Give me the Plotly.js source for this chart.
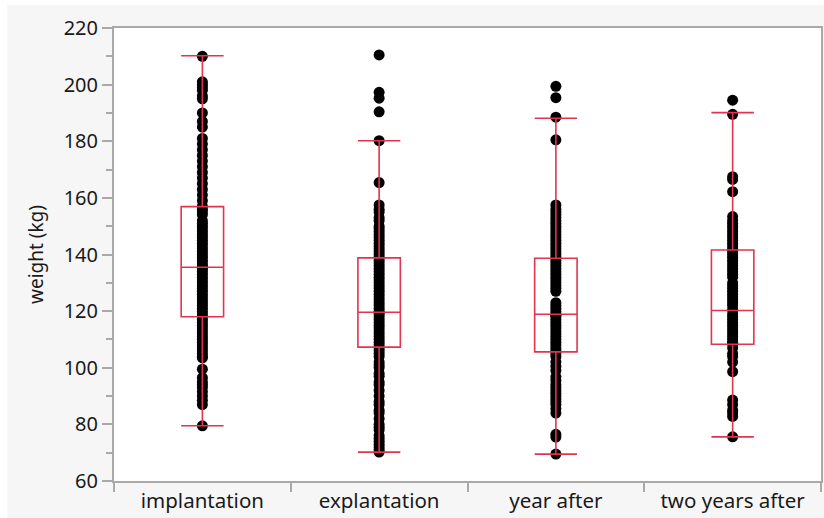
<!DOCTYPE html>
<html>
<head>
<meta charset="utf-8">
<script src="https://cdn.plot.ly/plotly-3.0.1.min.js"></script>
<style>html,body{margin:0;padding:0;background:#fff}#chart{width:824px;height:518px}</style>
</head>
<body>
<div id="chart"></div>
<script>
const categories = ["implantation", "explantation", "year after", "two years after"];

const implantation = [210, 201, 200, 199, 198, 196, 195, 190, 187, 185, 181, 179, 177, 175, 173, 171, 169, 167, 165, 163, 161, 159, 157, 156, 155, 154, 152, 151, 150, 149, 148, 147, 146, 145, 144, 143, 142, 141, 140, 139, 138, 137, 136, 135.5, 135, 134, 133, 132, 131, 130, 129, 128, 127, 126, 125, 124, 123, 122, 121, 120, 119, 118, 117, 116, 115, 114, 113, 112, 111, 110, 109, 108, 107, 106, 105, 104, 103.5, 99.5, 96.5, 95, 94, 93, 91.5, 90, 88.5, 87, 79.5];
const explantation = [210.5, 197.3, 195.2, 190.4, 180.2, 165.4, 157.5, 156, 155, 153, 152, 150, 149, 148, 147, 146, 145, 144, 143, 142, 141, 140, 139, 138, 137, 136, 135, 134, 133, 132, 131, 130, 129, 128, 127, 126, 125, 124, 123, 122, 121, 120, 119.5, 119, 118, 117, 116, 115, 114, 113, 112, 111, 110, 109, 108, 107, 106, 105, 104, 102, 101, 100, 98, 97, 95, 94, 92, 90, 88, 87, 85, 84, 82, 80, 79, 78, 76, 75, 74, 73, 72, 71, 70.2];
const yearAfter = [199.4, 195.4, 188.5, 180.5, 157.5, 156, 155, 154, 153, 152, 151, 150, 149, 148, 147, 146, 145, 144, 143, 142, 141, 140, 139, 138, 137, 136, 135, 134, 133, 132, 131, 130, 129, 128, 127, 123, 122, 121, 120, 119, 118.5, 118, 117, 116, 115, 114, 113, 112, 111, 110, 109, 108, 107, 106, 105, 104, 102, 100.5, 99, 96.8, 95.5, 94, 93, 92, 91, 90, 89, 88, 87, 85.5, 84, 76.5, 75.5, 69.5];
const twoYearsAfter = [194.5, 189.5, 167.5, 166.5, 162.2, 153.4, 152, 151, 150, 149, 148, 147, 146, 145, 144, 143, 142, 141, 140, 139, 138, 137, 136, 135, 134, 133, 132, 130, 129, 128, 127, 126, 125, 124, 123, 122, 120.5, 119, 118, 117, 116, 115, 114, 113, 112, 111, 110, 109, 108.5, 107, 105, 104, 102, 98.6, 88.6, 87, 85, 84, 82.8, 75.6];

const q1 = [118, 107.3, 105.6, 108.3];
const medians = [135.5, 119.6, 118.9, 120.2];
const q3 = [156.9, 138.8, 138.7, 141.6];
const lowerFence = [79.5, 70.2, 69.5, 75.6];
const upperFence = [210.2, 180.2, 188.1, 190.1];

const yTickVals = [60, 80, 100, 120, 140, 160, 180, 200, 220];

const groups = [implantation, explantation, yearAfter, twoYearsAfter];
const px = [], py = [];
groups.forEach((g, i) => g.forEach(v => { px.push(categories[i]); py.push(v); }));

const red = '#e2334f';
const axisGray = '#a9a9a9';
const font = "'Noto Sans', 'Open Sans', sans-serif";

const traces = [
  {
    type: 'box', x: px, y: py, boxpoints: 'all', jitter: 0, pointpos: 0,
    marker: {color: '#000', size: 11}, line: {color: 'rgba(0,0,0,0)', width: 0},
    fillcolor: 'rgba(0,0,0,0)', width: 0.24, showlegend: false, hoverinfo: 'y'
  },
  {
    type: 'box', x: categories, q1: q1, median: medians, q3: q3,
    lowerfence: lowerFence, upperfence: upperFence, boxpoints: false,
    line: {color: red, width: 1.6}, fillcolor: 'rgba(0,0,0,0)',
    width: 0.24, whiskerwidth: 1, showlegend: false
  }
];

const layout = {
  width: 824, height: 518,
  margin: {l: 114, r: 3, t: 28, b: 37},
  paper_bgcolor: '#f6f6f6', plot_bgcolor: '#ffffff',
  boxmode: 'overlay', showlegend: false,
  font: {family: font, color: '#1a1a1a', size: 20},
  shapes: [
    {type: 'rect', xref: 'paper', yref: 'paper', x0: -0.2, x1: 1.1, y0: 1.05, y1: 1.2, line: {width: 0}, fillcolor: '#ffffff', layer: 'below'},
    {type: 'rect', xref: 'paper', yref: 'paper', x0: -0.2, x1: -0.151, y0: -0.2, y1: 1.2, line: {width: 0}, fillcolor: '#ffffff', layer: 'below'}
  ],
  xaxis: {
    type: 'category', categoryorder: 'array', categoryarray: categories,
    range: [-0.5, 3.5], autorange: false,
    showline: true, linecolor: axisGray, linewidth: 2, mirror: true,
    ticks: 'outside', tickson: 'boundaries', ticklen: 9, tickcolor: axisGray, tickwidth: 2,
    showgrid: false, zeroline: false, fixedrange: true,
    tickfont: {family: font, size: 20.5, color: '#1a1a1a'}
  },
  yaxis: {
    range: [60, 220], autorange: false, tickvals: yTickVals, ticktext: yTickVals.map(String),
    showline: true, linecolor: axisGray, linewidth: 2, mirror: true,
    ticks: 'outside', ticklen: 10, tickcolor: axisGray, tickwidth: 2,
    minor: {dtick: 10, ticks: 'outside', ticklen: 6, tickcolor: axisGray, tickwidth: 2, showgrid: false},
    showgrid: false, zeroline: false, fixedrange: true,
    tickfont: {family: font, size: 20, color: '#1a1a1a'},
    title: {text: 'weight (kg)', font: {family: font, size: 19, color: '#1a1a1a'}, standoff: 15}
  }
};

Plotly.newPlot('chart', traces, layout, {displayModeBar: false, staticPlot: true});
</script>
</body>
</html>
